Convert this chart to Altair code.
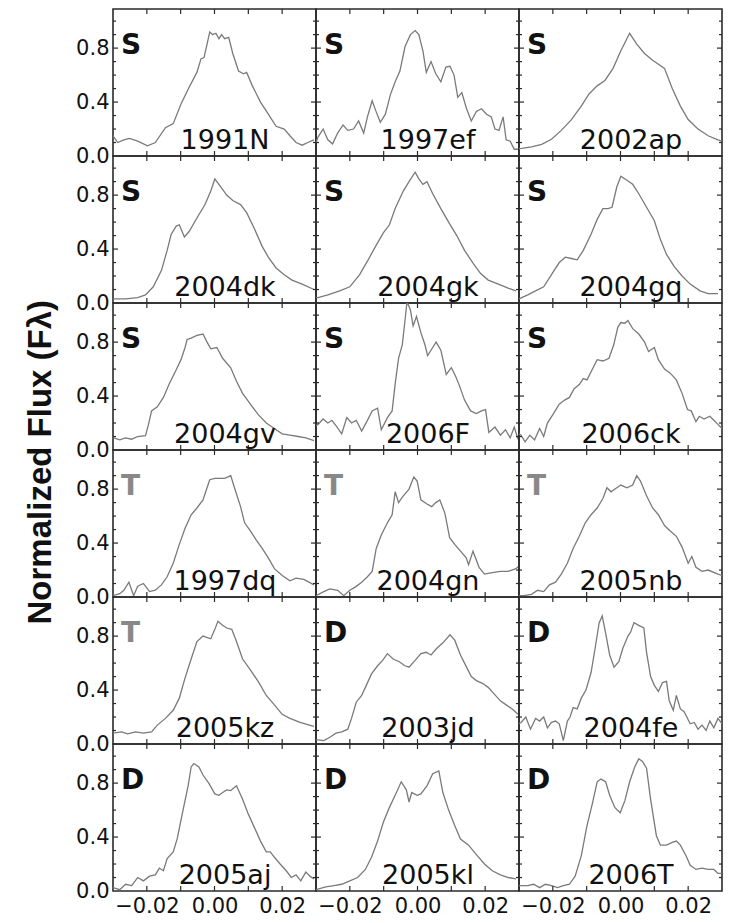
import altair as alt
import pandas as pd

# ---------------- data ----------------
NAMES = ["1991N", "1997ef", "2002ap",
         "2004dk", "2004gk", "2004gq",
         "2004gv", "2006F", "2006ck",
         "1997dq", "2004gn", "2005nb",
         "2005kz", "2003jd", "2004fe",
         "2005aj", "2005kl", "2006T"]
CLASSES = ["S", "S", "S",
           "S", "S", "S",
           "S", "S", "S",
           "T", "T", "T",
           "T", "D", "D",
           "D", "D", "D"]

P_1991N = [(-0.0300,0.15),(-0.0286,0.10),(-0.0268,0.12),(-0.0251,0.13),(-0.0227,0.11),(-0.0198,0.075),(-0.0175,0.10),(-0.0145,0.21),(-0.0122,0.24),(-0.0099,0.385),(-0.0075,0.51),(-0.0052,0.62),(-0.0040,0.72),(-0.0031,0.73),(-0.0022,0.83),(-0.0014,0.92),(-0.0005,0.90),(0.0004,0.91),(0.0013,0.87),(0.0021,0.90),(0.0030,0.87),(0.0042,0.88),(0.0054,0.76),(0.0071,0.63),(0.0086,0.61),(0.0095,0.62),(0.0112,0.52),(0.0136,0.40),(0.0159,0.31),(0.0182,0.22),(0.0206,0.20),(0.0223,0.15),(0.0241,0.10),(0.0259,0.08),(0.0276,0.10),(0.0294,0.12)]
P_1997ef = [(-0.0300,0.10),(-0.0294,0.14),(-0.0279,0.20),(-0.0265,0.12),(-0.0251,0.09),(-0.0236,0.17),(-0.0220,0.23),(-0.0206,0.19),(-0.0189,0.20),(-0.0174,0.26),(-0.0159,0.17),(-0.0148,0.29),(-0.0134,0.41),(-0.0124,0.34),(-0.0110,0.25),(-0.0095,0.31),(-0.0080,0.455),(-0.0066,0.55),(-0.0052,0.63),(-0.0037,0.81),(-0.0021,0.90),(-0.0007,0.93),(0.0004,0.90),(0.0016,0.78),(0.0026,0.62),(0.0040,0.70),(0.0054,0.61),(0.0069,0.55),(0.0084,0.66),(0.0096,0.665),(0.0108,0.60),(0.0119,0.435),(0.0131,0.47),(0.0145,0.35),(0.0159,0.26),(0.0174,0.33),(0.0189,0.35),(0.0204,0.31),(0.0218,0.29),(0.0229,0.20),(0.0241,0.19),(0.0253,0.29),(0.0262,0.12),(0.0274,0.11),(0.0286,0.05),(0.0297,0.05)]
P_2002ap = [(-0.0300,0.055),(-0.0292,0.057),(-0.0263,0.067),(-0.0233,0.087),(-0.0204,0.124),(-0.0175,0.19),(-0.0145,0.27),(-0.0116,0.37),(-0.0093,0.46),(-0.0069,0.52),(-0.0046,0.56),(-0.0022,0.65),(0.0001,0.78),(0.0027,0.91),(0.0048,0.83),(0.0071,0.76),(0.0095,0.71),(0.0130,0.65),(0.0153,0.50),(0.0177,0.37),(0.0200,0.27),(0.0229,0.20),(0.0259,0.15),(0.0288,0.12),(0.0300,0.11)]
P_2004dk = [(-0.0300,0.03),(-0.0263,0.03),(-0.0227,0.04),(-0.0204,0.06),(-0.0181,0.12),(-0.0157,0.24),(-0.0140,0.39),(-0.0128,0.51),(-0.0113,0.57),(-0.0104,0.58),(-0.0089,0.49),(-0.0075,0.53),(-0.0052,0.63),(-0.0028,0.73),(-0.0011,0.83),(0.0001,0.92),(0.0019,0.86),(0.0036,0.80),(0.0054,0.76),(0.0077,0.73),(0.0095,0.67),(0.0118,0.55),(0.0141,0.42),(0.0159,0.34),(0.0182,0.26),(0.0206,0.21),(0.0229,0.17),(0.0259,0.14),(0.0294,0.10)]
P_2004gk = [(-0.0300,0.04),(-0.0294,0.04),(-0.0265,0.06),(-0.0230,0.09),(-0.0200,0.12),(-0.0171,0.21),(-0.0148,0.31),(-0.0124,0.42),(-0.0101,0.52),(-0.0083,0.58),(-0.0066,0.70),(-0.0042,0.83),(-0.0025,0.90),(-0.0007,0.97),(0.0004,0.92),(0.0016,0.88),(0.0028,0.90),(0.0045,0.81),(0.0069,0.70),(0.0092,0.60),(0.0116,0.50),(0.0139,0.39),(0.0163,0.30),(0.0186,0.22),(0.0209,0.17),(0.0239,0.14),(0.0268,0.11),(0.0291,0.09)]
P_2004gq = [(-0.0300,0.03),(-0.0292,0.04),(-0.0274,0.06),(-0.0251,0.09),(-0.0227,0.12),(-0.0204,0.21),(-0.0181,0.30),(-0.0163,0.34),(-0.0145,0.33),(-0.0128,0.32),(-0.0110,0.39),(-0.0087,0.51),(-0.0069,0.62),(-0.0052,0.70),(-0.0037,0.70),(-0.0025,0.71),(-0.0011,0.86),(0.0001,0.94),(0.0019,0.91),(0.0036,0.88),(0.0054,0.81),(0.0077,0.71),(0.0100,0.61),(0.0118,0.47),(0.0136,0.36),(0.0159,0.27),(0.0182,0.20),(0.0206,0.14),(0.0235,0.09),(0.0259,0.07),(0.0288,0.07)]
P_2004gv = [(-0.0298,0.09),(-0.0280,0.075),(-0.0263,0.09),(-0.0245,0.08),(-0.0227,0.10),(-0.0204,0.107),(-0.0195,0.19),(-0.0186,0.29),(-0.0169,0.32),(-0.0151,0.39),(-0.0134,0.49),(-0.0116,0.58),(-0.0099,0.67),(-0.0087,0.76),(-0.0081,0.82),(-0.0069,0.83),(-0.0052,0.85),(-0.0034,0.86),(-0.0022,0.80),(-0.0011,0.75),(0.0007,0.76),(0.0024,0.68),(0.0048,0.61),(0.0065,0.51),(0.0083,0.42),(0.0106,0.34),(0.0130,0.26),(0.0153,0.20),(0.0177,0.16),(0.0200,0.12),(0.0223,0.11),(0.0247,0.10),(0.0270,0.09),(0.0294,0.07)]
P_2006F = [(-0.0300,0.18),(-0.0294,0.19),(-0.0279,0.23),(-0.0265,0.20),(-0.0253,0.22),(-0.0241,0.18),(-0.0224,0.12),(-0.0209,0.24),(-0.0195,0.20),(-0.0181,0.22),(-0.0165,0.14),(-0.0148,0.22),(-0.0134,0.29),(-0.0118,0.31),(-0.0107,0.15),(-0.0089,0.24),(-0.0075,0.29),(-0.0066,0.49),(-0.0056,0.68),(-0.0045,0.78),(-0.0037,0.96),(-0.0031,1.10),(-0.0021,1.04),(-0.0013,0.92),(-0.0003,0.99),(0.0010,0.87),(0.0022,0.78),(0.0030,0.70),(0.0045,0.76),(0.0055,0.80),(0.0069,0.74),(0.0085,0.56),(0.0100,0.61),(0.0112,0.55),(0.0125,0.47),(0.0139,0.37),(0.0157,0.29),(0.0174,0.27),(0.0189,0.29),(0.0201,0.30),(0.0211,0.13),(0.0229,0.17),(0.0245,0.11),(0.0260,0.15),(0.0274,0.09),(0.0286,0.17),(0.0297,0.08)]
P_2006ck = [(-0.0300,0.12),(-0.0294,0.11),(-0.0282,0.06),(-0.0268,0.11),(-0.0254,0.075),(-0.0239,0.16),(-0.0227,0.10),(-0.0216,0.20),(-0.0198,0.27),(-0.0181,0.34),(-0.0165,0.37),(-0.0151,0.39),(-0.0137,0.455),(-0.0122,0.485),(-0.0110,0.53),(-0.0099,0.52),(-0.0087,0.58),(-0.0069,0.67),(-0.0052,0.66),(-0.0034,0.68),(-0.0020,0.78),(-0.0008,0.91),(0.0001,0.945),(0.0013,0.94),(0.0022,0.96),(0.0036,0.90),(0.0054,0.86),(0.0071,0.80),(0.0083,0.73),(0.0100,0.76),(0.0112,0.67),(0.0130,0.60),(0.0147,0.57),(0.0165,0.52),(0.0182,0.42),(0.0198,0.30),(0.0209,0.29),(0.0223,0.21),(0.0233,0.25),(0.0247,0.23),(0.0264,0.25),(0.0276,0.22),(0.0288,0.19),(0.0300,0.16)]
P_1997dq = [(-0.0300,0.01),(-0.0280,0.025),(-0.0268,0.05),(-0.0253,0.11),(-0.0239,0.01),(-0.0227,0.08),(-0.0210,0.10),(-0.0192,0.04),(-0.0175,0.05),(-0.0157,0.09),(-0.0140,0.15),(-0.0122,0.25),(-0.0104,0.39),(-0.0087,0.51),(-0.0069,0.61),(-0.0052,0.66),(-0.0034,0.72),(-0.0022,0.81),(-0.0014,0.87),(0.0001,0.88),(0.0019,0.88),(0.0030,0.88),(0.0048,0.90),(0.0059,0.81),(0.0077,0.67),(0.0089,0.55),(0.0106,0.49),(0.0124,0.42),(0.0141,0.36),(0.0159,0.29),(0.0177,0.21),(0.0200,0.16),(0.0223,0.12),(0.0241,0.14),(0.0264,0.13),(0.0294,0.09)]
P_2004gn = [(-0.0300,0.01),(-0.0277,0.04),(-0.0259,0.06),(-0.0236,0.05),(-0.0218,0.01),(-0.0200,0.05),(-0.0183,0.075),(-0.0165,0.11),(-0.0148,0.15),(-0.0134,0.19),(-0.0122,0.36),(-0.0107,0.46),(-0.0089,0.55),(-0.0075,0.61),(-0.0066,0.78),(-0.0056,0.70),(-0.0042,0.75),(-0.0025,0.80),(-0.0011,0.89),(-0.0001,0.86),(0.0010,0.72),(0.0028,0.69),(0.0042,0.67),(0.0054,0.70),(0.0066,0.72),(0.0081,0.62),(0.0095,0.44),(0.0110,0.39),(0.0144,0.29),(0.0151,0.24),(0.0164,0.34),(0.0182,0.22),(0.0198,0.17),(0.0221,0.18),(0.0245,0.19),(0.0268,0.19),(0.0291,0.21),(0.0300,0.23)]
P_2005nb = [(-0.0300,0.01),(-0.0286,0.01),(-0.0263,0.02),(-0.0245,0.05),(-0.0227,0.04),(-0.0210,0.09),(-0.0192,0.11),(-0.0175,0.17),(-0.0157,0.25),(-0.0140,0.36),(-0.0122,0.45),(-0.0104,0.55),(-0.0087,0.61),(-0.0069,0.66),(-0.0052,0.73),(-0.0040,0.81),(-0.0028,0.78),(-0.0011,0.81),(0.0001,0.83),(0.0019,0.81),(0.0036,0.83),(0.0048,0.90),(0.0059,0.86),(0.0077,0.75),(0.0095,0.66),(0.0112,0.61),(0.0130,0.53),(0.0147,0.49),(0.0165,0.45),(0.0182,0.37),(0.0200,0.25),(0.0211,0.30),(0.0223,0.22),(0.0241,0.19),(0.0259,0.20),(0.0288,0.17),(0.0300,0.16)]
P_2005kz = [(-0.0300,0.08),(-0.0274,0.09),(-0.0257,0.075),(-0.0233,0.09),(-0.0210,0.08),(-0.0186,0.09),(-0.0169,0.14),(-0.0145,0.19),(-0.0122,0.25),(-0.0104,0.34),(-0.0087,0.49),(-0.0069,0.63),(-0.0052,0.76),(-0.0034,0.80),(-0.0011,0.78),(0.0001,0.85),(0.0010,0.91),(0.0024,0.88),(0.0036,0.86),(0.0051,0.85),(0.0065,0.76),(0.0083,0.63),(0.0106,0.55),(0.0130,0.46),(0.0153,0.36),(0.0177,0.29),(0.0200,0.22),(0.0223,0.19),(0.0253,0.16),(0.0294,0.13)]
P_2003jd = [(-0.0300,0.03),(-0.0294,0.03),(-0.0277,0.025),(-0.0259,0.05),(-0.0241,0.08),(-0.0224,0.09),(-0.0206,0.11),(-0.0195,0.19),(-0.0181,0.31),(-0.0165,0.36),(-0.0154,0.42),(-0.0136,0.52),(-0.0118,0.58),(-0.0103,0.62),(-0.0089,0.67),(-0.0072,0.63),(-0.0054,0.61),(-0.0037,0.58),(-0.0025,0.57),(-0.0007,0.62),(0.0010,0.67),(0.0026,0.68),(0.0040,0.66),(0.0057,0.71),(0.0075,0.75),(0.0096,0.81),(0.0110,0.77),(0.0127,0.66),(0.0145,0.57),(0.0159,0.50),(0.0174,0.47),(0.0192,0.45),(0.0209,0.42),(0.0227,0.37),(0.0245,0.32),(0.0262,0.29),(0.0280,0.26),(0.0297,0.22)]
P_2004fe = [(-0.0300,0.15),(-0.0294,0.16),(-0.0280,0.20),(-0.0266,0.11),(-0.0251,0.19),(-0.0239,0.17),(-0.0227,0.20),(-0.0216,0.12),(-0.0204,0.16),(-0.0192,0.17),(-0.0181,0.15),(-0.0169,0.025),(-0.0157,0.17),(-0.0149,0.20),(-0.0140,0.27),(-0.0128,0.26),(-0.0116,0.34),(-0.0102,0.40),(-0.0087,0.53),(-0.0075,0.71),(-0.0063,0.90),(-0.0054,0.95),(-0.0043,0.81),(-0.0032,0.66),(-0.0019,0.57),(-0.0005,0.61),(0.0007,0.71),(0.0022,0.80),(0.0030,0.83),(0.0040,0.90),(0.0054,0.88),(0.0069,0.86),(0.0077,0.68),(0.0089,0.50),(0.0100,0.435),(0.0112,0.39),(0.0124,0.455),(0.0136,0.465),(0.0144,0.32),(0.0156,0.25),(0.0165,0.36),(0.0177,0.26),(0.0188,0.24),(0.0206,0.15),(0.0218,0.16),(0.0229,0.11),(0.0241,0.14),(0.0253,0.10),(0.0264,0.17),(0.0276,0.12),(0.0288,0.19),(0.0300,0.15)]
P_2005aj = [(-0.0300,0.025),(-0.0280,0.01),(-0.0263,0.05),(-0.0245,0.04),(-0.0227,0.10),(-0.0210,0.075),(-0.0192,0.11),(-0.0175,0.12),(-0.0163,0.17),(-0.0151,0.15),(-0.0140,0.24),(-0.0122,0.29),(-0.0110,0.39),(-0.0093,0.60),(-0.0078,0.78),(-0.0069,0.92),(-0.0061,0.945),(-0.0046,0.92),(-0.0034,0.86),(-0.0017,0.80),(0.0001,0.72),(0.0013,0.71),(0.0024,0.73),(0.0036,0.75),(0.0048,0.745),(0.0065,0.78),(0.0083,0.68),(0.0100,0.57),(0.0118,0.47),(0.0136,0.37),(0.0153,0.29),(0.0165,0.29),(0.0177,0.25),(0.0194,0.20),(0.0212,0.15),(0.0227,0.10),(0.0241,0.12),(0.0255,0.075),(0.0270,0.14),(0.0282,0.11),(0.0294,0.09)]
P_2005kl = [(-0.0300,0.01),(-0.0271,0.03),(-0.0247,0.04),(-0.0224,0.05),(-0.0200,0.075),(-0.0177,0.10),(-0.0154,0.16),(-0.0136,0.25),(-0.0118,0.37),(-0.0101,0.51),(-0.0083,0.62),(-0.0066,0.71),(-0.0048,0.81),(-0.0033,0.75),(-0.0025,0.66),(-0.0017,0.73),(-0.0001,0.71),(0.0010,0.72),(0.0028,0.78),(0.0045,0.87),(0.0063,0.89),(0.0075,0.73),(0.0092,0.60),(0.0110,0.485),(0.0127,0.385),(0.0151,0.34),(0.0174,0.27),(0.0198,0.20),(0.0221,0.15),(0.0245,0.12),(0.0268,0.10),(0.0291,0.09)]
P_2006T = [(-0.0300,0.04),(-0.0274,0.04),(-0.0257,0.05),(-0.0239,0.025),(-0.0222,0.05),(-0.0204,0.04),(-0.0186,0.025),(-0.0169,0.04),(-0.0151,0.05),(-0.0134,0.11),(-0.0116,0.26),(-0.0099,0.485),(-0.0083,0.65),(-0.0069,0.81),(-0.0058,0.83),(-0.0044,0.81),(-0.0032,0.71),(-0.0017,0.62),(-0.0001,0.58),(0.0013,0.67),(0.0027,0.81),(0.0042,0.92),(0.0054,0.98),(0.0065,0.96),(0.0077,0.91),(0.0089,0.68),(0.0106,0.41),(0.0118,0.34),(0.0136,0.34),(0.0153,0.36),(0.0165,0.37),(0.0177,0.34),(0.0194,0.26),(0.0206,0.19),(0.0223,0.16),(0.0241,0.17),(0.0259,0.16),(0.0276,0.16),(0.0288,0.13),(0.0300,0.13)]

SPECTRA = [P_1991N, P_1997ef, P_2002ap, P_2004dk, P_2004gk, P_2004gq,
           P_2004gv, P_2006F, P_2006ck, P_1997dq, P_2004gn, P_2005nb,
           P_2005kz, P_2003jd, P_2004fe, P_2005aj, P_2005kl, P_2006T]

X_TICKS = [-0.02, -0.01, 0.0, 0.01, 0.02]
X_LABELS = [-0.02, 0.0, 0.02]
Y_LABELS = [0.0, 0.4, 0.8]
Y_MAJOR = [0.4, 0.8]
Y_MINOR = [0.1, 0.2, 0.3, 0.5, 0.6, 0.7, 0.9, 1.0]

# ---------------- layout / style ----------------
W, H = 203, 147
XDOM = [-0.030, 0.030]
YDOM = [0.0, 1.09]
LINE_COLOR = "#7a7a7a"
FRAME = "#2a2a2a"
CLASS_COLOR = {"S": "#111111", "T": "#888888", "D": "#111111"}
TXT_FONT = "DejaVu Sans"


def panel(i, row, col):
    df = pd.DataFrame(SPECTRA[i], columns=["x", "y"])
    xs = alt.Scale(domain=XDOM, nice=False, zero=False)
    ys = alt.Scale(domain=YDOM, nice=False, zero=False)
    if row == 5:
        xaxis = alt.Axis(values=X_LABELS, format=".2f", ticks=False, domain=False,
                         grid=False, title=None, labelFontSize=21, labelFont=TXT_FONT,
                         labelPadding=4, labelOverlap=False, labelFlush=False,
                         labelBound=False, labelColor="#111")
    else:
        xaxis = None
    if col == 0:
        yaxis = alt.Axis(values=Y_LABELS, format=".1f", ticks=False, domain=False,
                         grid=False, title=None, labelFontSize=21, labelFont=TXT_FONT,
                         labelPadding=4, labelOverlap=False, labelFlush=False,
                         labelBound=False, labelColor="#111")
    else:
        yaxis = None
    X = alt.X("x:Q", scale=xs, axis=xaxis)
    Y = alt.Y("y:Q", scale=ys, axis=yaxis)

    line = alt.Chart(df).mark_line(color=LINE_COLOR, strokeWidth=1.3, clip=True).encode(x=X, y=Y)

    xt = pd.DataFrame({"x": X_TICKS})
    ymaj = pd.DataFrame({"y": Y_MAJOR})
    ymin = pd.DataFrame({"y": Y_MINOR})
    tick_style = dict(color=FRAME, strokeWidth=1.2)
    bot = alt.Chart(xt).mark_rule(**tick_style).encode(x=X, y=alt.value(H), y2=alt.value(H - 5))
    top = alt.Chart(xt).mark_rule(**tick_style).encode(x=X, y=alt.value(0), y2=alt.value(5))
    lmaj = alt.Chart(ymaj).mark_rule(**tick_style).encode(y=Y, x=alt.value(0), x2=alt.value(5))
    rmaj = alt.Chart(ymaj).mark_rule(**tick_style).encode(y=Y, x=alt.value(W), x2=alt.value(W - 5))
    lmin = alt.Chart(ymin).mark_rule(**tick_style).encode(y=Y, x=alt.value(0), x2=alt.value(3))
    rmin = alt.Chart(ymin).mark_rule(**tick_style).encode(y=Y, x=alt.value(W), x2=alt.value(W - 3))

    lab = pd.DataFrame({"cls": [CLASSES[i]], "name": [NAMES[i]]})
    cls_txt = alt.Chart(lab).mark_text(
        align="left", baseline="alphabetic", fontSize=28, fontWeight="bold",
        font=TXT_FONT, color=CLASS_COLOR[CLASSES[i]]
    ).encode(x=alt.value(8), y=alt.value(45), text="cls:N")
    name_txt = alt.Chart(lab).mark_text(
        align="center", baseline="alphabetic", fontSize=27, font=TXT_FONT, color="#111"
    ).encode(x=alt.value(112), y=alt.value(H - 7), text="name:N")

    return alt.layer(line, bot, top, lmaj, rmaj, lmin, rmin, cls_txt, name_txt).properties(
        width=W, height=H)


panels = []
for i in range(18):
    r, c = divmod(i, 3)
    panels.append(panel(i, r, c))

chart = alt.concat(*panels, columns=3, spacing=0, bounds="flush").properties(
    title=alt.TitleParams(
        text="Normalized Flux (Fλ)", orient="left", anchor="middle",
        fontSize=33, font="Liberation Sans", fontWeight="bold", color="#111", offset=17
    ),
    padding={"left": 24, "top": 7, "right": 5, "bottom": 5},
).configure_view(stroke=FRAME, strokeWidth=1.6).configure_concat(spacing=0)

chart.save("out.html", embed_options={"renderer": "svg", "actions": False})
